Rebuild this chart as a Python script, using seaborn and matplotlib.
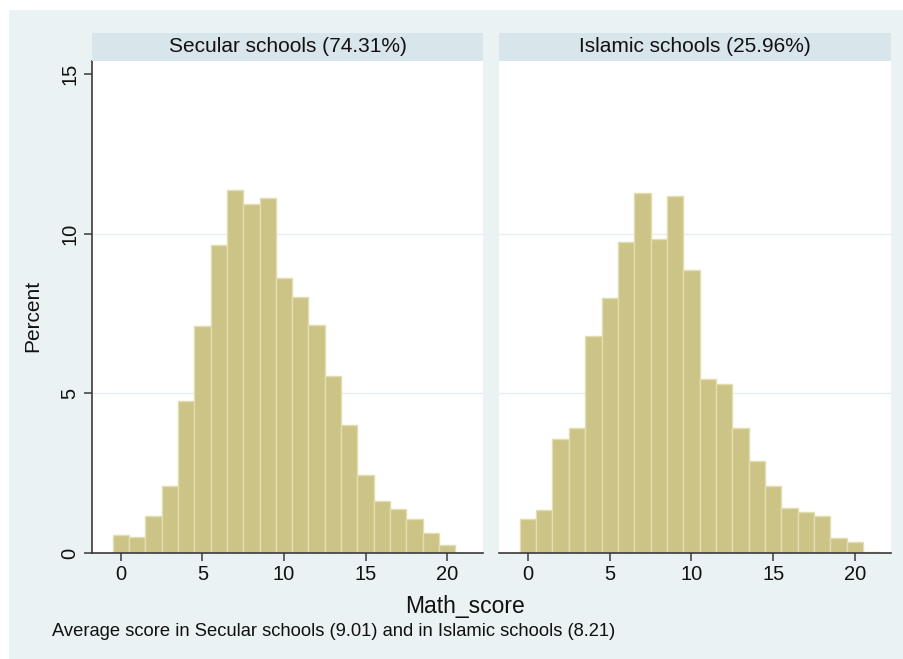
import pandas as pd
import numpy as np
import seaborn as sns
import matplotlib.pyplot as plt
from matplotlib.patches import Rectangle

# data (percent of pupils per integer score)
scores_secular = list(range(0, 21))
pct_secular = [0.57, 0.50, 1.15, 2.09, 4.76, 7.12, 9.65, 11.35, 10.93, 11.10, 8.61,
               8.01, 7.15, 5.55, 4.01, 2.45, 1.62, 1.38, 1.07, 0.63, 0.26]
scores_islamic = list(range(0, 22))
pct_islamic = [1.07, 1.36, 3.57, 3.91, 6.80, 7.97, 9.75, 11.26, 9.84, 11.16, 8.87,
               5.45, 5.29, 3.91, 2.88, 2.09, 1.41, 1.27, 1.17, 0.47, 0.33, 0.02]
panel_titles = ["Secular schools (74.31%)", "Islamic schools (25.96%)"]
y_ticks = [0, 5, 10, 15]
x_ticks = [0, 5, 10, 15, 20]
x_label = "Math_score"
y_label = "Percent"
note = "Average score in Secular schools (9.01) and in Islamic schools (8.21)"

df = pd.concat([
    pd.DataFrame({"school": panel_titles[0], "score": scores_secular, "pct": pct_secular}),
    pd.DataFrame({"school": panel_titles[1], "score": scores_islamic, "pct": pct_islamic}),
])

sns.set_style("white")
plt.rcParams['font.family'] = ['Liberation Sans', 'DejaVu Sans']

W, H = 904, 659
fig = plt.figure(figsize=(W / 100, H / 100), dpi=100)
fig.patch.set_facecolor("white")

bg = "#EAF2F3"
strip_col = "#D8E5EB"
bar_col = "#CCC487"
edge_col = "#E2DDAE"
axis_col = "#3A3A3A"
txt_col = "#111111"

# graph region background
fig.add_artist(Rectangle((9 / W, 0), 1, (H - 10) / H, transform=fig.transFigure,
                         facecolor=bg, edgecolor="none", zorder=-10))

def fx(px):
    return px / W

def fy(py):
    return (H - py) / H

panels = [(92, 483), (499, 891)]
top, bottom = 61, 553
strip_top = 33

for i, (x0, x1) in enumerate(panels):
    ax = fig.add_axes([fx(x0), fy(bottom), fx(x1) - fx(x0), fy(top) - fy(bottom)])
    sub = df[df["school"] == panel_titles[i]]
    sns.histplot(data=sub, x="score", weights="pct", discrete=True, ax=ax,
                 color=bar_col, edgecolor=edge_col, linewidth=1.0, alpha=1)
    for g in [5, 10]:
        ax.axhline(g, color="#E6EEF0", linewidth=1.0, zorder=0)
    ax.set_xlim(-1.77, 22.2)
    ax.set_ylim(0, 15.4)
    ax.set_facecolor("white")
    ax.set_xticks(x_ticks)
    ax.set_xlabel("")
    ax.set_ylabel("")
    for s in ["top", "right"]:
        ax.spines[s].set_visible(False)
    ax.spines["bottom"].set_color(axis_col)
    ax.spines["bottom"].set_linewidth(1.2)
    ax.tick_params(axis="x", direction="out", length=6, width=1.1, color=axis_col,
                   labelsize=14.5, labelcolor=txt_col, pad=3, bottom=True)
    if i == 0:
        ax.spines["left"].set_color(axis_col)
        ax.spines["left"].set_linewidth(1.2)
        ax.set_yticks(y_ticks)
        ax.tick_params(axis="y", direction="out", length=6, width=1.1, color=axis_col,
                       labelsize=14.5, labelcolor=txt_col, pad=3, left=True)
        for lab in ax.get_yticklabels():
            lab.set_rotation(90)
            lab.set_va("center")
    else:
        ax.spines["left"].set_visible(False)
        ax.set_yticks([])

    # facet strip
    sax = fig.add_axes([fx(x0), fy(top), fx(x1) - fx(x0), fy(strip_top) - fy(top)])
    sax.set_facecolor(strip_col)
    sax.set_xticks([])
    sax.set_yticks([])
    for s in sax.spines.values():
        s.set_visible(False)
    sax.text(0.5, 0.5, panel_titles[i], ha="center", va="center", fontsize=15,
             transform=sax.transAxes, color=txt_col)

fig.text(fx(33), fy(316), y_label, rotation=90, ha="center", va="center", fontsize=15,
         color=txt_col)
fig.text(fx(465), fy(606), x_label, ha="center", va="center", fontsize=16.5, color=txt_col)
fig.text(fx(52), fy(632), note, ha="left", va="center", fontsize=13.2, color=txt_col)

fig.savefig("out.png", dpi=100)
